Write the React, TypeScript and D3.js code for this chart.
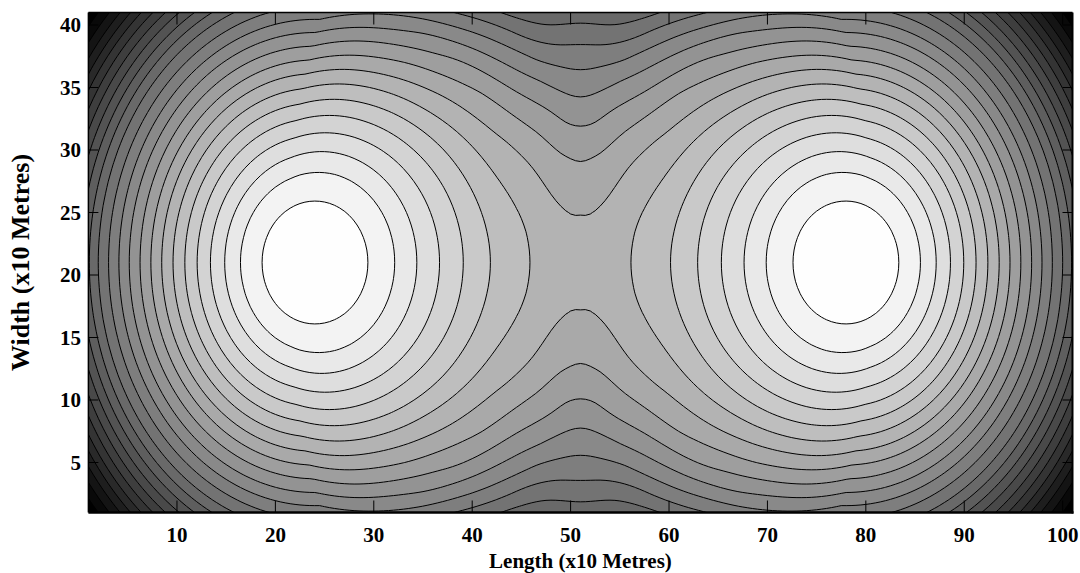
import React, { useMemo } from "react";
import * as d3 from "d3";

// axis ticks
const X_TICKS = [10, 20, 30, 40, 50, 60, 70, 80, 90, 100];
const Y_TICKS = [5, 10, 15, 20, 25, 30, 35, 40];

// grid (x10 metres), sampled at half a unit
const X_RANGE = [1, 101];
const Y_RANGE = [1, 41];
const GRID_STEP = 0.5;

// the two sensors
const SENSOR_X = [24, 78];
const SENSOR_Y = [21, 21];
// rings reach about 0.45 less far up/down than sideways
const VERTICAL_OFFSET = 0.45;

// miss probability of one sensor against distance, read off the contour rings
// (the first entry is the centre value extrapolated from the inner rings)
const PROFILE_DIST = [
  0, 5.35, 7.55, 9.15, 10.6, 11.95, 13.2, 14.4, 15.55, 16.65, 17.75, 18.85,
  19.9, 20.95, 22, 24.5, 27, 28.22, 30.16, 33.25, 36.45, 41.4, 46, 50, 54, 57,
];
const PROFILE_MISS = [
  -0.043, 0.002, 0.0205, 0.039, 0.0575, 0.076, 0.0945, 0.113, 0.1315, 0.15,
  0.1685, 0.187, 0.2055, 0.224, 0.2425, 0.296, 0.3556, 0.3873, 0.4324, 0.4924,
  0.562, 0.665, 0.77, 0.86, 0.94, 1,
];

// contour levels (detection probability)
const LEVEL_TOP = 0.998;
const LEVEL_STEP = 0.0185;

const W = 1080;
const H = 573;
const M = { left: 88.4, right: 1072.5, top: 12.5, bottom: 512.5 };
const FONT = "'Liberation Serif', 'Times New Roman', serif";

// monotone cubic (Fritsch-Carlson) through the profile table
function monotone(xs: number[], ys: number[]) {
  const n = xs.length;
  const d: number[] = [];
  for (let k = 0; k < n - 1; k++) d.push((ys[k + 1] - ys[k]) / (xs[k + 1] - xs[k]));
  const m: number[] = new Array(n);
  m[0] = d[0];
  m[n - 1] = d[n - 2];
  for (let k = 1; k < n - 1; k++) m[k] = d[k - 1] * d[k] <= 0 ? 0 : (d[k - 1] + d[k]) / 2;
  for (let k = 0; k < n - 1; k++) {
    if (d[k] === 0) {
      m[k] = 0;
      m[k + 1] = 0;
      continue;
    }
    const a = m[k] / d[k];
    const b = m[k + 1] / d[k];
    const s = a * a + b * b;
    if (s > 9) {
      const t = 3 / Math.sqrt(s);
      m[k] = t * a * d[k];
      m[k + 1] = t * b * d[k];
    }
  }
  return (x: number) => {
    if (x <= xs[0]) return ys[0];
    if (x >= xs[n - 1]) return ys[n - 1];
    const k = Math.min(n - 2, d3.bisectRight(xs, x) - 1);
    const h = xs[k + 1] - xs[k];
    const t = (x - xs[k]) / h;
    const t2 = t * t;
    const t3 = t2 * t;
    return (
      (2 * t3 - 3 * t2 + 1) * ys[k] +
      (t3 - 2 * t2 + t) * h * m[k] +
      (-2 * t3 + 3 * t2) * ys[k + 1] +
      (t3 - t2) * h * m[k + 1]
    );
  };
}

export default function App() {
  const x = d3.scaleLinear().domain(X_RANGE).range([M.left, M.right]);
  const y = d3.scaleLinear().domain(Y_RANGE).range([M.bottom, M.top]);

  const { bands, baseColor } = useMemo(() => {
    const miss = monotone(PROFILE_DIST, PROFILE_MISS);
    const nx = Math.round((X_RANGE[1] - X_RANGE[0]) / GRID_STEP) + 1;
    const ny = Math.round((Y_RANGE[1] - Y_RANGE[0]) / GRID_STEP) + 1;

    const values: number[] = [];
    for (let j = 0; j < ny; j++) {
      for (let i = 0; i < nx; i++) {
        const gx = X_RANGE[0] + i * GRID_STEP;
        const gy = Y_RANGE[0] + j * GRID_STEP;
        let q = 1;
        SENSOR_X.forEach((sx, k) => {
          const dx = gx - sx;
          const dy = gy - SENSOR_Y[k];
          const r = Math.hypot(dx, dy);
          const rEff = r === 0 ? 0 : r + VERTICAL_OFFSET * (dy / r) ** 2;
          q *= miss(rEff);
        });
        values.push(1 - q);
      }
    }
    const vmin = d3.min(values) as number;
    const vmax = 1;

    const thresholds: number[] = [];
    for (let t = LEVEL_TOP; t > vmin; t -= LEVEL_STEP) thresholds.push(t);
    thresholds.reverse();

    const gray = d3.scaleLinear().domain([vmin, vmax]).range([0, 255]).clamp(true);
    const toColor = (v: number) => {
      const g = Math.round(gray(v));
      return d3.rgb(g, g, g).formatHex();
    };

    const contours = d3.contours().size([nx, ny]).thresholds(thresholds)(values);

    const proj = d3.geoTransform({
      point: function (px: number, py: number) {
        this.stream.point(
          x(X_RANGE[0] + (px - 0.5) * GRID_STEP),
          y(Y_RANGE[0] + (py - 0.5) * GRID_STEP)
        );
      },
    });
    const path = d3.geoPath(proj);

    const bands = contours.map((c) => ({
      d: path(c as any) || "",
      fill: toColor(c.value),
    }));
    return { bands, baseColor: toColor(vmin) };
  }, []);

  return (
    <svg
      width={W}
      height={H}
      style={{ position: "absolute", left: 0, top: 0, background: "#fff" }}
    >
      <defs>
        <clipPath id="plot-clip">
          <rect x={M.left} y={M.top} width={M.right - M.left} height={M.bottom - M.top} />
        </clipPath>
      </defs>

      <g clipPath="url(#plot-clip)">
        <rect
          x={M.left}
          y={M.top}
          width={M.right - M.left}
          height={M.bottom - M.top}
          fill={baseColor}
        />
        {bands.map((b, i) => (
          <path key={"b" + i} d={b.d} fill={b.fill} stroke="none" />
        ))}
        {bands.map((b, i) => (
          <path key={"l" + i} d={b.d} fill="none" stroke="#000" strokeWidth={1} />
        ))}
      </g>

      {/* ticks, inside on all four sides */}
      {X_TICKS.map((t) => (
        <g key={"xt" + t} stroke="#000" strokeWidth={1}>
          <line x1={x(t)} x2={x(t)} y1={M.bottom} y2={M.bottom - 12} />
          <line x1={x(t)} x2={x(t)} y1={M.top} y2={M.top + 12} />
        </g>
      ))}
      {Y_TICKS.map((t) => (
        <g key={"yt" + t} stroke="#000" strokeWidth={1}>
          <line x1={M.left} x2={M.left + 10} y1={y(t)} y2={y(t)} />
          <line x1={M.right} x2={M.right - 10} y1={y(t)} y2={y(t)} />
        </g>
      ))}

      {/* box */}
      <line x1={M.left} x2={M.right} y1={M.top} y2={M.top} stroke="#000" strokeWidth={1.3} />
      <line x1={M.left} x2={M.left} y1={M.top} y2={M.bottom} stroke="#000" strokeWidth={1.5} />
      <line x1={M.right} x2={M.right} y1={M.top} y2={M.bottom + 1} stroke="#000" strokeWidth={2} />
      <line x1={M.left} x2={M.right + 1} y1={M.bottom} y2={M.bottom} stroke="#000" strokeWidth={2.7} />

      {/* tick labels */}
      <g fontFamily={FONT} fontWeight="bold" fontSize={21} fill="#000">
        {X_TICKS.map((t) => (
          <text key={"xl" + t} x={x(t)} y={542} textAnchor="middle">
            {t}
          </text>
        ))}
        {Y_TICKS.map((t) => (
          <text key={"yl" + t} x={81} y={y(t)} dy="0.35em" textAnchor="end">
            {t}
          </text>
        ))}
        <text x={(M.left + M.right) / 2} y={568} textAnchor="middle">
          Length (x10 Metres)
        </text>
      </g>
      <text
        transform={`translate(29, ${(M.top + M.bottom) / 2}) rotate(-90)`}
        textAnchor="middle"
        fontFamily={FONT}
        fontWeight="bold"
        fontSize={26}
        fill="#000"
      >
        Width (x10 Metres)
      </text>
    </svg>
  );
}
